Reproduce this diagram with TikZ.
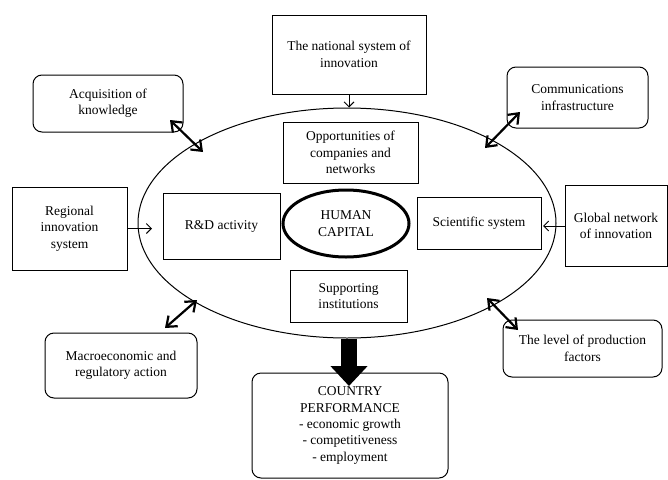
\documentclass[tikz,border=0pt]{standalone}
\usepackage{fontspec}
\setmainfont{Liberation Serif}
\usetikzlibrary{shapes.geometric,arrows.meta}

\tikzset{
  box/.style={draw,line width=1pt,align=center,inner sep=0pt},
  rbox/.style={box,rounded corners=9pt},
  twoway/.style={line width=2.2pt,{Straight Barb[length=9pt,width=14pt]}-{Straight Barb[length=9pt,width=14pt]}},
  oneway/.style={line width=0.9pt,-{Straight Barb[length=5pt,width=10pt]}}
}

\begin{document}
\begin{tikzpicture}[x=1pt,y=-1pt,font=\fontsize{13.5}{16.4}\selectfont]
        \useasboundingbox (0,0) rectangle (668,479);
        % the big oval
        \node [draw,ellipse,line width=1pt,inner sep=0pt,minimum width=418pt,minimum height=230pt] (outer) at (347,223) {};

        % inside the oval
        \node [box,minimum width=135pt,minimum height=61pt] (opp) at (350.5,152.5) {Opportunities of\\companies and\\networks};
        \node [box,minimum width=117pt,minimum height=66pt] (rnd) at (221.5,226) {R\&D activity};
        \node [draw,ellipse,line width=3pt,align=center,inner sep=0pt,minimum width=126pt,minimum height=67pt] (hc) at (346,223.5) {HUMAN\\CAPITAL};
        \node [box,minimum width=124pt,minimum height=52pt] (sci) at (479,223) {Scientific system};
        \node [box,minimum width=117pt,minimum height=52pt] (sup) at (348.5,296) {Supporting\\institutions};

        % around the oval
        \node [box,minimum width=154pt,minimum height=79pt] (nsi) at (349,54.5) {The national system of\\innovation};
        \node [rbox,minimum width=150pt,minimum height=57pt] (acq) at (108,103.5) {Acquisition of\\knowledge};
        \node [rbox,minimum width=141pt,minimum height=61pt] (com) at (577.5,97.5) {Communications\\infrastructure};
        \node [box,minimum width=115pt,minimum height=83pt] (reg) at (69.5,228.5) {Regional\\innovation\\system};
        \node [box,minimum width=102pt,minimum height=81pt] (glob) at (616,226) {Global network\\of innovation};
        \node [rbox,minimum width=152pt,minimum height=65pt] (mac) at (121,365.5) {Macroeconomic and\\regulatory action};
        \node [rbox,minimum width=159pt,minimum height=57pt] (lev) at (582.5,348.5) {The level of production\\factors};
        \node [rbox,minimum width=196pt,minimum height=105pt] (cp) at (350,425.5) {COUNTRY\\PERFORMANCE\\- economic growth\\- competitiveness\\- employment};

        % free ends
        \coordinate (regtip) at (152,228.5);
        \coordinate (globtip) at (543,226);
        \coordinate (acqend) at (170,120);
        \coordinate (acqtip) at (203,152);
        \coordinate (comend) at (520,112);
        \coordinate (comtip) at (485,148);
        \coordinate (macend) at (165,328);
        \coordinate (mactip) at (197,300);
        \coordinate (levend) at (518,330);
        \coordinate (levtip) at (487,298);
        \coordinate (cptip) at (349,386);

        \draw [oneway] (nsi.south) -- (nsi.south |- outer.north);
        \draw [oneway] (reg.east) -- (regtip);
        \draw [oneway] (glob.west) -- (globtip);
        \draw [twoway] (acqend) -- (acqtip);
        \draw [twoway] (comend) -- (comtip);
        \draw [twoway] (macend) -- (mactip);
        \draw [twoway] (levend) -- (levtip);
        \draw [line width=16pt,-{Triangle[length=20pt,width=36pt]}] (cptip |- outer.south) -- (cptip);
\end{tikzpicture}
\end{document}
